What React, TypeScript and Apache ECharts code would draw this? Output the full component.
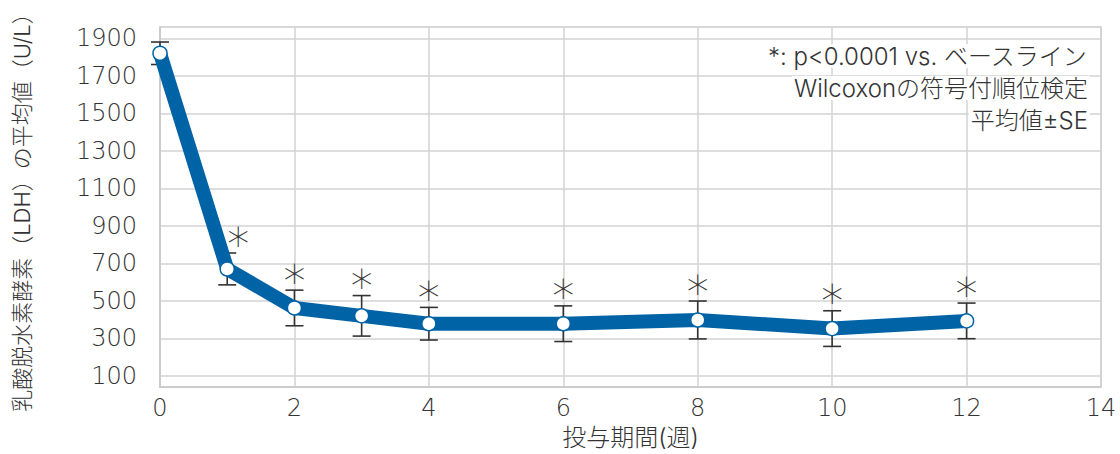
import React, { useEffect, useRef } from 'react';
import * as echarts from 'echarts';

const weeks = [0, 1, 2, 3, 4, 6, 8, 10, 12];
const meanLDH = [1820, 670, 462, 420, 378, 378, 398, 352, 393];
const seLDH = [60, 85, 95, 108, 87, 95, 101, 95, 95];
const significant = [false, true, true, true, true, true, true, true, true];
const yTicks = [100, 300, 500, 700, 900, 1100, 1300, 1500, 1700, 1900];
const noteLines = ['*: p<0.0001 vs. ベースライン', 'Wilcoxonの符号付順位検定', '平均値±SE'];
const yAxisName = '乳酸脱水素酵素（LDH）の平均値（U/L）';
const xAxisName = '投与期間(週)';

const FONT = 'Inter, "Noto Sans CJK JP", sans-serif';
const NUMFONT = '"DejaVu Sans", Inter, sans-serif';
const BLUE = '#0063a6';
const TEXT = '#333333';
const W = 300;

export default function App() {
  const ref = useRef<HTMLDivElement>(null);
  useEffect(() => {
    if (!ref.current) return;
    const chart = echarts.init(ref.current, undefined, { renderer: 'svg' });
    const pts = weeks.map((w, i) => [w, meanLDH[i], seLDH[i], significant[i] ? 1 : 0, i]);
    chart.setOption({
      animation: false,
      textStyle: { fontFamily: FONT, fontWeight: W },
      grid: { left: 160, right: 19, top: 27, bottom: 64, show: true, borderColor: '#cccccc', borderWidth: 1.5 },
      xAxis: {
        type: 'value', min: 0, max: 14, interval: 2,
        axisLine: { lineStyle: { color: '#c8c8c8', width: 1.5 } },
        axisTick: { show: false },
        axisLabel: { fontSize: 24, color: TEXT, margin: 9, fontFamily: NUMFONT, fontWeight: 200 },
        splitLine: { show: true, lineStyle: { color: '#d3d3d3', width: 1.5 } },
        name: xAxisName, nameLocation: 'middle', nameGap: 36,
        nameTextStyle: { fontSize: 24, color: TEXT, fontFamily: FONT, fontWeight: W },
      },
      yAxis: {
        type: 'value', min: 40, max: 1960,
        axisLine: { show: true, lineStyle: { color: '#c8c8c8', width: 1.5 } },
        axisTick: { show: false, customValues: yTicks },
        axisLabel: {
          fontSize: 24, color: TEXT, margin: 23, customValues: yTicks, fontFamily: NUMFONT, fontWeight: 200,
          formatter: (v: number) => String(v),
        },
        splitLine: { show: true, lineStyle: { color: '#d3d3d3', width: 1.5 } },
        name: yAxisName, nameLocation: 'middle', nameGap: 127, nameRotate: 90,
        nameTextStyle: { fontSize: 22, color: TEXT, fontFamily: FONT, fontWeight: W },
      },
      graphic: noteLines.map((t, i) => ({
        type: 'text', right: 30, top: 44 + i * 32, z: 100,
        style: { text: t, fontSize: 24, fill: TEXT, fontFamily: FONT, fontWeight: W, backgroundColor: '#ffffff', padding: [0, 2] },
      })),
      series: [
        {
          type: 'custom', z: 1, clip: false,
          data: pts,
          renderItem: (params: any, api: any) => {
            const x = api.value(0), m = api.value(1), s = api.value(2);
            const top = api.coord([x, m + s]);
            const bot = api.coord([x, m - s]);
            const hw = 9;
            const st = { stroke: '#333333', lineWidth: 1.6 };
            return {
              type: 'group',
              children: [
                { type: 'line', shape: { x1: top[0], y1: top[1], x2: bot[0], y2: bot[1] }, style: st },
                { type: 'line', shape: { x1: top[0] - hw, y1: top[1], x2: top[0] + hw, y2: top[1] }, style: st },
                { type: 'line', shape: { x1: bot[0] - hw, y1: bot[1], x2: bot[0] + hw, y2: bot[1] }, style: st },
              ],
            };
          },
        },
        {
          type: 'line', z: 2, clip: false,
          data: pts.map(p => [p[0], p[1]]),
          symbol: 'circle', symbolSize: 14,
          itemStyle: { color: '#ffffff', borderColor: BLUE, borderWidth: 1.5 },
          lineStyle: { color: BLUE, width: 14 },
        },
        {
          type: 'custom', z: 3, clip: false,
          data: pts,
          renderItem: (params: any, api: any) => {
            if (!api.value(3)) return null;
            const x = api.value(0), m = api.value(1), s = api.value(2);
            const c = api.coord([x, m + s]);
            const dx = api.value(4) === 1 ? 11 : 0;
            return {
              type: 'text',
              style: {
                text: '*', x: c[0] + dx, y: c[1] - 9, align: 'center', verticalAlign: 'middle',
                fontSize: 44, fill: TEXT, fontFamily: '"DejaVu Sans", sans-serif', fontWeight: 200,
              },
            };
          },
        },
      ],
    });
    return () => chart.dispose();
  }, []);
  return <div ref={ref} style={{ position: 'absolute', left: 0, top: 0, width: 1120, height: 454 }} />;
}
